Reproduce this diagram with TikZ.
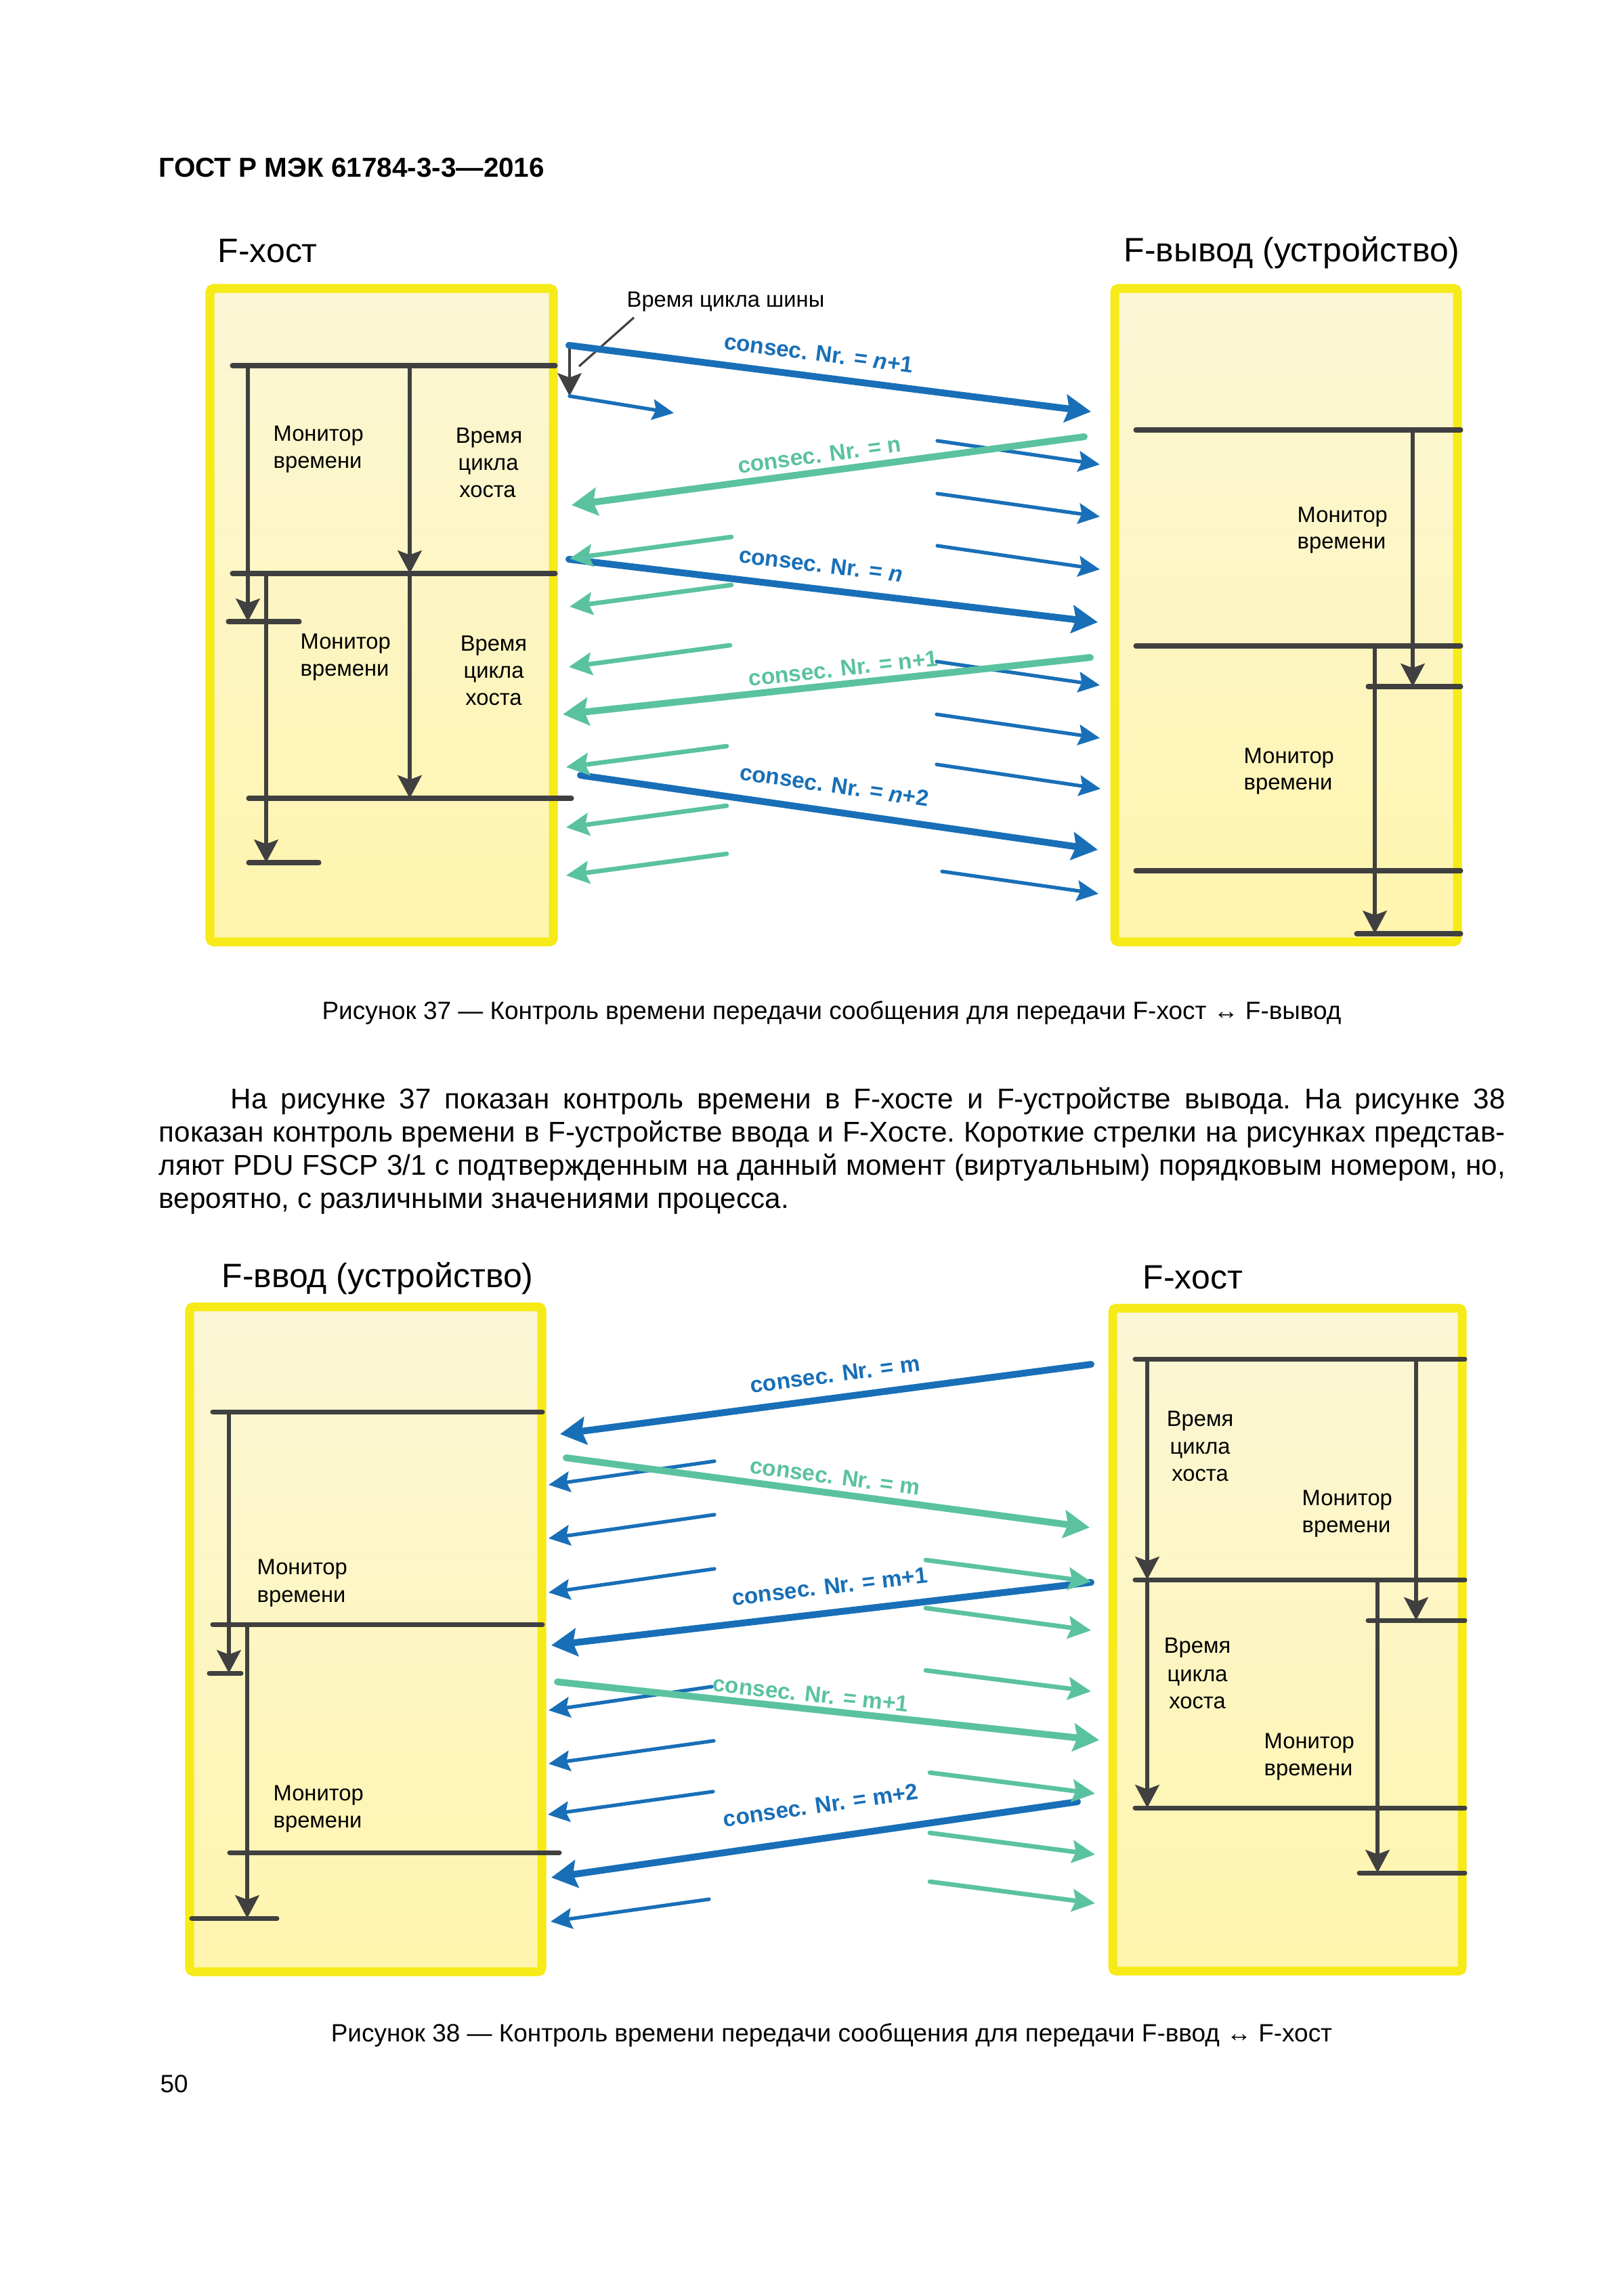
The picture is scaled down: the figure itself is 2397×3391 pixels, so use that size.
\documentclass[tikz,border=0pt]{standalone}
\usepackage{fontspec}
\setmainfont{Liberation Sans}
\usetikzlibrary{arrows.meta}
\definecolor{myblue}{RGB}{24,111,183}
\definecolor{mygreen}{RGB}{90,194,160}
\definecolor{mygray}{RGB}{64,64,64}
\definecolor{myyellow}{RGB}{246,234,24}
\definecolor{boxtop}{RGB}{251,246,214}
\definecolor{boxbot}{RGB}{255,245,174}
\tikzset{
  box/.style={draw=myyellow,line width=3.7pt,rounded corners=1.5pt,top color=boxtop,bottom color=boxbot},
  tline/.style={mygray,line width=2pt,line cap=round},
  tarrow/.style={mygray,line width=1.8pt,-{Stealth[length=9.6pt,width=10pt,inset=1.8pt]}},
  bigblue/.style={myblue,line width=2.85pt,line cap=round,-{Stealth[length=10.8pt,width=11.6pt,inset=1.6pt]}},
  biggreen/.style={mygreen,line width=2.85pt,line cap=round,-{Stealth[length=10.8pt,width=11.6pt,inset=1.6pt]}},
  smallblue/.style={myblue,line width=1.5pt,line cap=round,-{Stealth[length=9pt,width=8.6pt,inset=1.4pt]}},
  smallgreen/.style={mygreen,line width=1.9pt,line cap=round,-{Stealth[length=9.6pt,width=9.4pt,inset=1.5pt]}},
  lbl/.style={anchor=base west,inner sep=0pt,font=\fontsize{9.3}{11}\selectfont},
  lblc/.style={lbl,anchor=base},
  seqlbl/.style={inner sep=0pt,font=\bfseries\fontsize{9.5}{11}\selectfont},
  title/.style={anchor=base west,inner sep=0pt,font=\fontsize{14.2}{17}\selectfont},
  para/.style={anchor=base west,inner sep=0pt,font=\fontsize{12}{14}\selectfont\frenchspacing},
  capt/.style={anchor=base,inner sep=0pt,font=\fontsize{10.5}{12}\selectfont}
}
\begin{document}
\begin{tikzpicture}[x=0.01cm,y=-0.01cm]
  \fill[white] (0,0) rectangle (2397,3391);
  \useasboundingbox (0,0) rectangle (2397,3391);
  \node[anchor=base west,inner sep=0pt,font=\bfseries\fontsize{11.5}{13}\selectfont] (head) at (234,262) {ГОСТ Р МЭК 61784-3-3—2016};
  % Figure 37
  \node[title] (t37a) at (321,388) {F-хост};
  \node[title] (t37b) at (1659,387) {F-вывод (устройство)};
  \draw[box] (310,426) rectangle (817,1391);
  \draw[box] (1646,426) rectangle (2152,1391);
  \draw[tline] (343,540) -- (820,540);
  \draw[tline] (343,847) -- (820,847);
  \draw[tline] (337,918) -- (442,918);
  \draw[tline] (367,1179) -- (844,1179);
  \draw[tline] (367,1274) -- (471,1274);
  \draw[tarrow] (366,540) -- (366,918);
  \draw[tarrow] (605,540) -- (605,847);
  \draw[tarrow] (393,847) -- (393,1274);
  \draw[tarrow] (605,847) -- (605,1179);
  \node[lbl] (m1a) at (403,651) {Монитор};
  \node[lbl] (m1b) at (403,691) {времени};
  \node[lblc] (h1a) at (722,654) {Время};
  \node[lblc] (h1b) at (721,694) {цикла};
  \node[lblc] (h1c) at (720,734) {хоста};
  \node[lbl] (m2a) at (443,958) {Монитор};
  \node[lbl] (m2b) at (443,998) {времени};
  \node[lblc] (h2a) at (729,961) {Время};
  \node[lblc] (h2b) at (729,1001) {цикла};
  \node[lblc] (h2c) at (729,1041) {хоста};
  \draw[tline] (1677,635) -- (2157,635);
  \draw[tline] (1677,954) -- (2157,954);
  \draw[tline] (2020,1014) -- (2157,1014);
  \draw[tline] (1677,1286) -- (2157,1286);
  \draw[tline] (2003,1379) -- (2157,1379);
  \draw[tarrow] (2086,635) -- (2086,1014);
  \draw[tarrow] (2030,954) -- (2030,1379);
  \node[lbl] (m3a) at (1915,771) {Монитор};
  \node[lbl] (m3b) at (1915,810) {времени};
  \node[lbl] (m4a) at (1836,1127) {Монитор};
  \node[lbl] (m4b) at (1836,1166) {времени};
  \node[lbl] (bus) at (925,454) {Время цикла шины};
  \draw[mygray,line width=0.9pt] (936,469) -- (855,541);
  \draw[mygray,line width=1.4pt,-{Stealth[length=9.6pt,width=10pt,inset=1.8pt]}] (841,510) -- (841,585);
  \draw[smallblue] (841,585) -- (995,610);
  \draw[bigblue] (840,510) -- (1611,608);
  \draw[bigblue] (840,826) -- (1621,919);
  \draw[bigblue] (857,1145) -- (1621,1255);
  \draw[smallblue] (1384,651) -- (1624,686);
  \draw[smallblue] (1384,729) -- (1624,763);
  \draw[smallblue] (1384,806) -- (1624,841);
  \draw[smallblue] (1383,977) -- (1624,1012);
  \draw[smallblue] (1383,1055) -- (1624,1090);
  \draw[smallblue] (1383,1129) -- (1625,1165);
  \draw[smallblue] (1391,1287) -- (1622,1320);
  \draw[smallgreen] (1080,793) -- (841,825);
  \draw[smallgreen] (1080,864) -- (841,896);
  \draw[smallgreen] (1078,953) -- (840,985);
  \draw[smallgreen] (1073,1102) -- (836,1133);
  \draw[smallgreen] (1073,1190) -- (836,1222);
  \draw[smallgreen] (1073,1261) -- (836,1293);
  \draw[biggreen] (1601,645) -- (844,746);
  \draw[biggreen] (1610,971) -- (831,1055);
  \node[seqlbl,myblue,rotate=-7.2] (n1) at (1209,522) {consec. Nr. = \textit{n}+1};
  \node[seqlbl,mygreen,rotate=7.6] (n2) at (1210,672) {consec. Nr. = n};
  \node[seqlbl,myblue,rotate=-6.8] (n3) at (1212,834) {consec. Nr. = \textit{n}};
  \node[seqlbl,mygreen,rotate=6.2] (n4) at (1245,987) {consec. Nr. = n+1};
  \node[seqlbl,myblue,rotate=-8.2] (n5) at (1232,1160) {consec. Nr. = \textit{n}+2};
  \node[capt] (c37) at (1228,1505) {Рисунок 37 — Контроль времени передачи сообщения для передачи F-хост ↔ F-вывод};
  % text
  \node[para] (p1) at (340,1637) {\makebox[18.81cm][s]{На рисунке 37 показан контроль времени в F-хосте и F-устройстве вывода. На рисунке 38}};
  \node[para] (p2) at (234,1686) {\makebox[19.87cm][s]{показан контроль времени в F-устройстве ввода и F-Хосте. Короткие стрелки на рисунках представ-}};
  \node[para] (p3) at (234,1735) {\makebox[19.87cm][s]{ляют PDU FSCP 3/1 с подтвержденным на данный момент (виртуальным) порядковым номером, но,}};
  \node[para] (p4) at (234,1784) {вероятно, с различными значениями процесса.};
  % Figure 38
  \node[title] (t38a) at (327,1901) {F-ввод (устройство)};
  \node[title] (t38b) at (1687,1903) {F-хост};
  \draw[box] (280,1930) rectangle (800,2912);
  \draw[box] (1643,1932) rectangle (2159,2911);
  \draw[tline] (314,2085) -- (801,2085);
  \draw[tline] (314,2399) -- (801,2399);
  \draw[tline] (309,2471) -- (356,2471);
  \draw[tline] (339,2736) -- (826,2736);
  \draw[tline] (283,2833) -- (409,2833);
  \draw[tarrow] (338,2085) -- (338,2471);
  \draw[tarrow] (365,2399) -- (365,2833);
  \node[lbl] (m5a) at (379,2325) {Монитор};
  \node[lbl] (m5b) at (379,2366) {времени};
  \node[lbl] (m6a) at (403,2659) {Монитор};
  \node[lbl] (m6b) at (403,2699) {времени};
  \draw[tline] (1676,2007) -- (2163,2007);
  \draw[tline] (1676,2333) -- (2163,2333);
  \draw[tline] (2020,2393) -- (2163,2393);
  \draw[tline] (1676,2670) -- (2163,2670);
  \draw[tline] (2007,2766) -- (2163,2766);
  \draw[tarrow] (1694,2007) -- (1694,2333);
  \draw[tarrow] (1694,2333) -- (1694,2670);
  \draw[tarrow] (2091,2007) -- (2091,2393);
  \draw[tarrow] (2034,2333) -- (2034,2766);
  \node[lblc] (h3a) at (1772,2106) {Время};
  \node[lblc] (h3b) at (1772,2147) {цикла};
  \node[lblc] (h3c) at (1772,2187) {хоста};
  \node[lbl] (m7a) at (1922,2223) {Монитор};
  \node[lbl] (m7b) at (1922,2263) {времени};
  \node[lblc] (h4a) at (1768,2441) {Время};
  \node[lblc] (h4b) at (1768,2483) {цикла};
  \node[lblc] (h4c) at (1768,2523) {хоста};
  \node[lbl] (m8a) at (1866,2582) {Монитор};
  \node[lbl] (m8b) at (1866,2622) {времени};
  \draw[bigblue] (1611,2015) -- (827,2118);
  \draw[bigblue] (1611,2337) -- (814,2430);
  \draw[bigblue] (1591,2661) -- (814,2773);
  \draw[smallblue] (1055,2158) -- (810,2193);
  \draw[smallblue] (1055,2237) -- (810,2272);
  \draw[smallblue] (1055,2317) -- (810,2352);
  \draw[smallblue] (1051,2491) -- (810,2526);
  \draw[smallblue] (1054,2571) -- (810,2605);
  \draw[smallblue] (1053,2646) -- (809,2680);
  \draw[smallblue] (1047,2805) -- (813,2838);
  \draw[smallgreen] (1367,2304) -- (1611,2336);
  \draw[smallgreen] (1367,2375) -- (1611,2408);
  \draw[smallgreen] (1367,2467) -- (1611,2498);
  \draw[smallgreen] (1373,2618) -- (1617,2649);
  \draw[smallgreen] (1373,2707) -- (1617,2739);
  \draw[smallgreen] (1373,2779) -- (1617,2811);
  \draw[biggreen] (836,2153) -- (1609,2256);
  \draw[biggreen] (823,2484) -- (1623,2570);
  \node[seqlbl,myblue,rotate=7.5] (k1) at (1233,2030) {consec. Nr. = m};
  \node[seqlbl,mygreen,rotate=-7.6] (k2) at (1233,2181) {consec. Nr. = m};
  \node[seqlbl,myblue,rotate=6.7] (k3) at (1225,2343) {consec. Nr. = m+1};
  \node[seqlbl,mygreen,rotate=-6.1] (k4) at (1197,2502) {consec. Nr. = m+1};
  \node[seqlbl,myblue,rotate=8.2] (k5) at (1212,2666) {consec. Nr. = m+2};
  \node[capt] (c38) at (1228,3015) {Рисунок 38 — Контроль времени передачи сообщения для передачи F-ввод ↔ F-хост};
  \node[anchor=base west,inner sep=0pt,font=\fontsize{10.5}{12}\selectfont] (pg) at (236,3090) {50};
\end{tikzpicture}
\end{document}
